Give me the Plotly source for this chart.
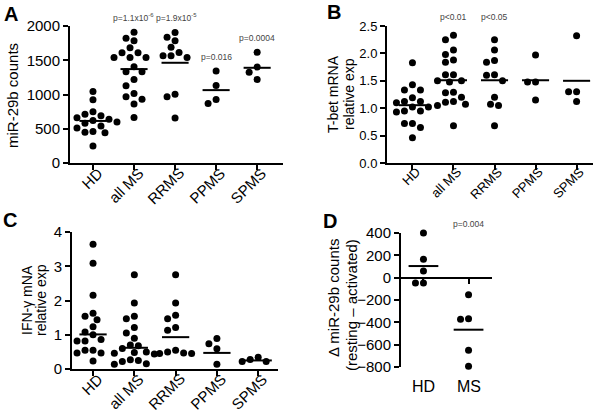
import numpy as np
import plotly.graph_objects as go

W, H = 601, 418
FONT = "Liberation Sans, Arial, Helvetica, sans-serif"

# ---------------- data ----------------
groups5 = ["HD", "all MS", "RRMS", "PPMS", "SPMS"]
groupsD = ["HD", "MS"]

A_HD = [1045, 925, 750, 710, 690, 660, 640, 620, 600, 600, 580, 540, 510, 460, 450, 440, 250]
A_allMS = [1908, 1820, 1785, 1682, 1609, 1609, 1539, 1539, 1539, 1404, 1331, 1331, 1220, 1126, 1015, 966, 932, 863, 664]
A_RRMS = [1905, 1837, 1785, 1688, 1614, 1565, 1565, 1541, 1005, 966, 658]
A_PPMS = [1342, 1132, 928, 869]
A_SPMS = [1615, 1400, 1323, 1220]
A_center = [614, 1371, 1463, 1064, 1390]

B_HD = [1.83, 1.43, 1.33, 1.33, 1.19, 1.12, 1.12, 1.10, 1.02, 1.02, 0.95, 0.95, 0.93, 0.72, 0.72, 0.65, 0.46]
B_allMS = [2.33, 2.25, 2.06, 1.98, 1.88, 1.84, 1.61, 1.61, 1.50, 1.48, 1.50, 1.29, 1.28, 1.20, 1.12, 1.11, 1.07, 1.05, 0.68]
B_RRMS = [2.25, 2.06, 1.87, 1.84, 1.61, 1.60, 1.50, 1.20, 1.07, 1.05, 0.68]
B_PPMS = [1.97, 1.48, 1.48, 1.15]
B_SPMS = [2.32, 1.30, 1.30, 1.12]
B_center = [1.055, 1.51, 1.51, 1.51, 1.50]

C_HD = [3.64, 3.09, 2.15, 1.63, 1.54, 1.44, 1.23, 1.08, 1.00, 0.86, 0.82, 0.82, 0.55, 0.55, 0.47, 0.47, 0.23]
C_allMS = [2.75, 1.93, 1.54, 1.47, 1.21, 1.05, 0.90, 0.70, 0.68, 0.60, 0.50, 0.48, 0.46, 0.44, 0.27, 0.25, 0.22, 0.15, 0.14]
C_RRMS = [2.75, 1.93, 1.57, 1.47, 1.21, 1.13, 0.55, 0.50, 0.47, 0.45, 0.45]
C_PPMS = [0.89, 0.74, 0.59, 0.14]
C_SPMS = [0.22, 0.34, 0.22, 0.28]
C_center = [1.01, 0.62, 0.93, 0.47, 0.25]

D_HD = [400, 164, 60, -48, -48]
D_MS = [-152, -373, -367, -651, -794]
D_center = [104, -466]

A_ticks = [0, 500, 1000, 1500, 2000]
B_ticks = [0.0, 0.5, 1.0, 1.5, 2.0, 2.5]
C_ticks = [0, 1, 2, 3, 4]
D_ticks = [-800, -600, -400, -200, 0, 200, 400]

# ---------------- layout geometry (pixels) ----------------
panels = {
    # name: (x0px, x1px, ytop_px, ybot_px, xrange, yrange, tick font size)
    "A": (70, 283, 26, 163, [-0.56, 4.63], [0, 2000], 15),
    "B": (387, 593, 26, 163, [-0.62, 4.40], [0, 2.5], 13),
    "C": (72, 278, 232, 369, [-0.51, 4.48], [0, 4], 15),
    "D": (400, 492, 233, 367, [-0.52, 1.52], [-800, 400], 15),
}


def swarm(vals, ppu_x, ppu_y, d=7.6, step=4.0):
    vals = np.asarray(vals, float)
    order = np.argsort(-vals, kind="stable")
    placed = []
    off = np.zeros(len(vals))
    cands = [0.0]
    for k in range(1, 8):
        cands += [-k * step, k * step]
    for i in order:
        y = vals[i] * ppu_y
        for c in cands:
            if all((c - px) ** 2 + (y - py) ** 2 >= d * d for px, py in placed):
                break
        placed.append((c, y))
        off[i] = c / ppu_x
    return off


fig = go.Figure()
axis_ids = {"A": ("x", "y"), "B": ("x2", "y2"), "C": ("x3", "y3"), "D": ("x4", "y4")}
layout_axes = {}
ann = []

data_sets = {
    "A": ([A_HD, A_allMS, A_RRMS, A_PPMS, A_SPMS], A_center, groups5, A_ticks, None),
    "B": ([B_HD, B_allMS, B_RRMS, B_PPMS, B_SPMS], B_center, groups5, B_ticks, ".1f"),
    "C": ([C_HD, C_allMS, C_RRMS, C_PPMS, C_SPMS], C_center, groups5, C_ticks, None),
    "D": ([D_HD, D_MS], D_center, groupsD, D_ticks, None),
}

for name, (x0, x1, yt, yb, xr, yr, fs) in panels.items():
    xa, ya = axis_ids[name]
    series, centers, cats, yticks, fmt = data_sets[name]
    ppu_x = (x1 - x0) / (xr[1] - xr[0])
    ppu_y = (yb - yt) / (yr[1] - yr[0])
    for gi, vals in enumerate(series):
        off = swarm(vals, ppu_x, ppu_y)
        fig.add_trace(go.Scatter(
            x=gi + off, y=vals, mode="markers", xaxis=xa, yaxis=ya,
            marker=dict(size=7, color="black", line=dict(width=0)),
            cliponaxis=False, showlegend=False, hoverinfo="skip"))
        fig.add_trace(go.Scatter(
            x=[gi - 0.33, gi + 0.33], y=[centers[gi], centers[gi]], mode="lines",
            xaxis=xa, yaxis=ya, line=dict(color="black", width=2),
            cliponaxis=False, showlegend=False, hoverinfo="skip"))

    xkey = "xaxis" if xa == "x" else "xaxis" + xa[1:]
    ykey = "yaxis" if ya == "y" else "yaxis" + ya[1:]
    dom_x = [x0 / W, x1 / W]
    dom_y = [1 - yb / H, 1 - yt / H]
    if name != "D":
        layout_axes[xkey] = dict(
            domain=dom_x, range=xr, anchor=ya, showgrid=False, zeroline=False,
            showline=True, linecolor="black", linewidth=2,
            ticks="outside", ticklen=5, tickwidth=2, tickcolor="black",
            tickvals=list(range(len(cats))), showticklabels=False)
        # rotated category labels (end of text near the tick)
        for gi, c in enumerate(cats):
            ann.append(dict(text=c, x=gi, y=dom_y[0], xref=xa, yref="paper",
                            xanchor="right", yanchor="top", xshift=round(14 * fs / 15),
                            yshift=0, textangle=-45, showarrow=False, borderpad=0,
                            font=dict(family=FONT, size=fs, color="black")))
    else:
        # x axis drawn through y = 0
        zero_pos = dom_y[0] + (0 - yr[0]) / (yr[1] - yr[0]) * (dom_y[1] - dom_y[0])
        layout_axes[xkey] = dict(
            domain=dom_x, range=xr, anchor="free", position=zero_pos,
            showgrid=False, zeroline=False,
            showline=True, linecolor="black", linewidth=2,
            ticks="outside", ticklen=5, tickwidth=2, tickcolor="black",
            tickvals=list(range(len(cats))), showticklabels=False)
        for gi, c in enumerate(cats):
            ann.append(dict(text=c, x=gi, y=1 - 386 / H, xref=xa, yref="paper",
                            xanchor="center", yanchor="middle", showarrow=False,
                            font=dict(family=FONT, size=16, color="black")))
    layout_axes[ykey] = dict(
        domain=dom_y, range=yr, anchor=xa if name != "D" else "free",
        position=x0 / W, showgrid=False, zeroline=False,
        showline=True, linecolor="black", linewidth=2,
        ticks="outside", ticklen=5, tickwidth=2, tickcolor="black",
        tickvals=yticks, tickformat=fmt,
        tickfont=dict(family=FONT, size=fs, color="black"))


def px_ann(text, x, y, size, bold=False, angle=0, color="black"):
    ann.append(dict(text=("<b>%s</b>" % text) if bold else text, x=x / W, y=1 - y / H,
                    xref="paper", yref="paper", showarrow=False, textangle=angle,
                    xanchor="center", yanchor="middle",
                    font=dict(family=FONT, size=size, color=color)))


# panel letters
px_ann("A", 11, 14, 20, bold=True)
px_ann("B", 334, 12, 20, bold=True)
px_ann("C", 10, 220, 20, bold=True)
px_ann("D", 330, 221, 20, bold=True)

# axis titles (one annotation per line)
px_ann("miR-29b counts", 13, 96, 15, angle=-90)
px_ann("T-bet mRNA", 333, 94, 14, angle=-90)
px_ann("relative exp", 349, 94, 14, angle=-90)
px_ann("IFN-γ mNA", 27, 300, 14, angle=-90)
px_ann("relative exp", 41, 300, 14, angle=-90)
px_ann("Δ miR-29b counts", 333, 298, 15, angle=-90)
px_ann("(resting – activated)", 351, 305, 15, angle=-90)


def p_ann(text, xref, xcat, ypx, xshift=0):
    ann.append(dict(text=text, x=xcat, y=1 - ypx / H, xref=xref, yref="paper",
                    showarrow=False, xanchor="center", yanchor="middle", xshift=xshift,
                    font=dict(family=FONT, size=8.5, color="#444")))


p_ann("p=1.1x10<sup>-6</sup>", "x", 1, 17, -1)
p_ann("p=1.9x10<sup>-5</sup>", "x", 2, 17, 1)
p_ann("p=0.016", "x", 3, 57)
p_ann("p=0.0004", "x", 4, 38)
p_ann("p<0.01", "x2", 1, 17)
p_ann("p<0.05", "x2", 2, 17)
p_ann("p=0.004", "x4", 1, 224)

fig.update_layout(
    width=W, height=H, margin=dict(l=0, r=0, t=0, b=0, autoexpand=False),
    paper_bgcolor="white", plot_bgcolor="white",
    annotations=ann, showlegend=False, **layout_axes)

fig.write_html("out.html", config={"displayModeBar": False},
               post_script="document.body.style.margin='0';document.body.style.padding='0';")
